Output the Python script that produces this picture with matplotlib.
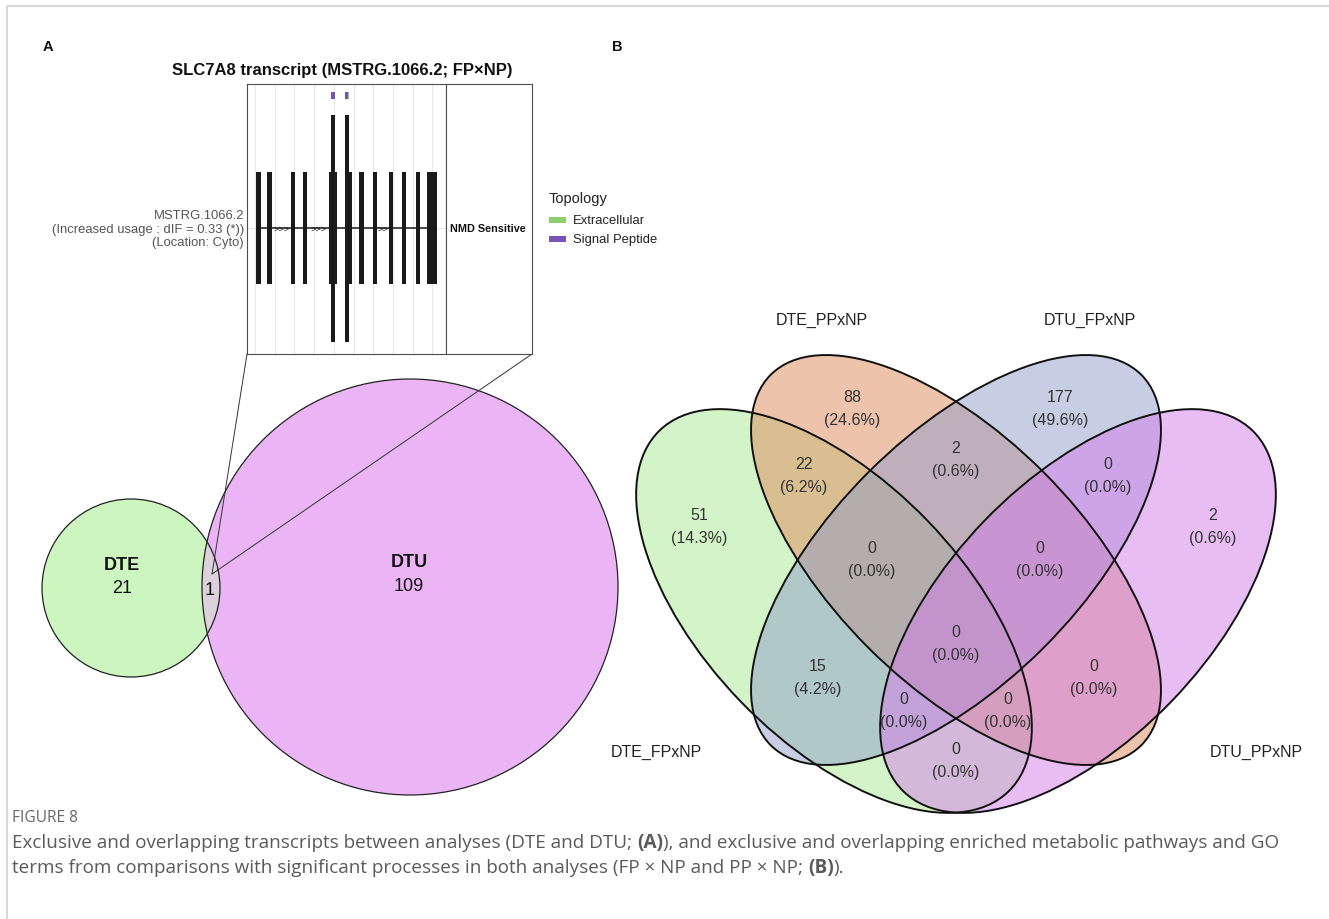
import matplotlib
matplotlib.use("Agg")
import matplotlib.pyplot as plt
from matplotlib.patches import Circle, Ellipse, Rectangle
from matplotlib import font_manager
import numpy as np

W, H, DPI = 1329, 920, 100

# ---------------- data ----------------
# Panel A - transcript model of MSTRG.1066.2 (relative coordinates)
exon_start = [0.4, 6.2, 18.1, 24.5, 37.7, 46.2, 52.9, 59.9, 67.9, 74.6, 81.6, 87.2]
exon_end = [3.2, 8.5, 20.5, 26.5, 41.5, 49.2, 55.2, 61.9, 69.9, 76.8, 83.8, 92.2]
cds_start = [38.7, 45.5]
cds_end = [40.8, 47.6]
sp_start = [38.7, 45.5]
sp_end = [40.8, 47.1]
ec_start = [47.1]
ec_end = [47.6]
chevron_x = [13.5, 32.5, 64.7]
chevron_s = [">>>", ">>>", ">>"]
transcript_lines = ["MSTRG.1066.2", "(Increased usage : dIF = 0.33 (*))", "(Location: Cyto)"]
legend_title = "Topology"
legend_labels = ["Extracellular", "Signal Peptide"]
legend_colors = ["#8ccf6e", "#7754b5"]
nmd_label = "NMD Sensitive"
title_A = "SLC7A8 transcript (MSTRG.1066.2; FP×NP)"

# Panel A - 2-set Venn
vennA_sets = ["DTE", "DTU"]
vennA_only = [21, 109]
vennA_both = 1

# Panel B - 4-set Venn
vennB_sets = ["DTE_FPxNP", "DTE_PPxNP", "DTU_FPxNP", "DTU_PPxNP"]
vennB_regions = [(1,), (2,), (3,), (4,), (1, 2), (2, 3), (3, 4), (1, 2, 3), (2, 3, 4),
                 (1, 2, 3, 4), (1, 3), (2, 4), (1, 3, 4), (1, 2, 4), (1, 4)]
vennB_counts = [51, 88, 177, 2, 22, 2, 0, 0, 0, 0, 15, 0, 0, 0, 0]

caption_head = "FIGURE 8"
caption_l1 = [("Exclusive and overlapping transcripts between analyses (DTE and DTU; ", "normal"),
              ("(A)", "bold"),
              ("), and exclusive and overlapping enriched metabolic pathways and GO", "normal")]
caption_l2 = [("terms from comparisons with significant processes in both analyses (FP × NP and PP × NP; ", "normal"),
              ("(B)", "bold"),
              (").", "normal")]

# ---------------- layout (pixels) ----------------
vB_cx = 956
vB_label_pos = {(1,): (-257, 516), (2,): (-104, 398), (3,): (104, 398), (4,): (257, 516),
                (1, 2): (-152, 465), (2, 3): (0, 449), (3, 4): (152, 465),
                (1, 2, 3): (-84, 549), (2, 3, 4): (84, 549), (1, 2, 3, 4): (0, 633),
                (1, 3): (-138, 667), (2, 4): (138, 667), (1, 3, 4): (-52, 700),
                (1, 2, 4): (52, 700), (1, 4): (0, 750)}
vB_set_pos = [(-300, 752), (-134, 320), (134, 320), (300, 752)]
# (dx, cy, angle, semi-major, semi-minor)
vB_ell = [(-122, 612, 46, 251, 130), (0, 561, 45, 262, 124),
          (0, 561, -45, 262, 124), (122, 612, -46, 251, 130)]
vB_fill = ["#a9eb93", "#dd895b", "#919dc9", "#d37deb"]

plt.rcParams['font.family'] = ['Liberation Sans', 'DejaVu Sans']

fig = plt.figure(figsize=(W / DPI, H / DPI), dpi=DPI)
fig.patch.set_facecolor("white")
ax = fig.add_axes([0, 0, 1, 1])
ax.set_xlim(0, W)
ax.set_ylim(H, 0)
ax.axis("off")


def fig_rect(x0, y0, x1, y1):
    return [x0 / W, 1 - y1 / H, (x1 - x0) / W, (y1 - y0) / H]


# page borders
ax.plot([7, W], [7, 7], color="#d2d2d2", lw=1.2, solid_capstyle="butt")
ax.plot([7, 7], [7, H], color="#d2d2d2", lw=1.2, solid_capstyle="butt")

# panel letters
ax.text(48, 47, "A", fontsize=10.5, fontweight="bold", ha="center", va="center", color="#111")
ax.text(617, 47, "B", fontsize=10.5, fontweight="bold", ha="center", va="center", color="#111")

# ---------------- transcript plot ----------------
ax.text(342, 70, title_A, fontsize=12, fontweight="bold", ha="center", va="center", color="#111")

ylo, yhi = -2.25, 2.571
axT = fig.add_axes(fig_rect(247, 85, 446, 355))
axT.set_xlim(-4.06, 96.95)
axT.set_ylim(ylo, yhi)
axT.set_xticks(np.arange(0, 100, 10))
axT.set_yticks([0])
axT.tick_params(length=0, labelbottom=False, labelleft=False)
axT.grid(True, color="#e8e8e8", lw=0.8)
axT.set_axisbelow(True)
for s in axT.spines.values():
    s.set_color("#4d4d4d")
    s.set_linewidth(0.8)

axT.plot([exon_end[0], exon_start[-1]], [0, 0], color="#1a1a1a", lw=1.1, zorder=2)
for x, s in zip(chevron_x, chevron_s):
    axT.text(x, 0, s, fontsize=6.5, ha="center", va="center", color="#1a1a1a", zorder=3)
axT.bar(exon_start, 2.0, width=np.subtract(exon_end, exon_start), bottom=-1.0,
        align="edge", color="#1a1a1a", zorder=4)
axT.bar(cds_start, 4.05, width=np.subtract(cds_end, cds_start), bottom=-2.03,
        align="edge", color="#1a1a1a", zorder=4)
axT.bar(sp_start, 0.13, width=np.subtract(sp_end, sp_start), bottom=2.30,
        align="edge", color=legend_colors[1], zorder=4)
axT.bar(ec_start, 0.13, width=np.subtract(ec_end, ec_start), bottom=2.30,
        align="edge", color=legend_colors[0], zorder=4)

axN = fig.add_axes(fig_rect(446, 85, 532, 355))
axN.set_xlim(0, 1)
axN.set_ylim(ylo, yhi)
axN.set_xticks([])
axN.set_yticks([])
for s in axN.spines.values():
    s.set_color("#4d4d4d")
    s.set_linewidth(0.8)
axN.text(0.49, 0, nmd_label, fontsize=7.8, fontweight="bold", ha="center", va="center", color="#111")

for yy, line in zip([216, 229.5, 243], transcript_lines):
    ax.text(244, yy, line, fontsize=9.4, ha="right", va="center", color="#555555")

# legend
ax.text(549, 199, legend_title, fontsize=10.5, ha="left", va="center", color="#222")
for yy, lab, col in zip([221, 240], legend_labels, legend_colors):
    ax.add_patch(Rectangle((549, yy - 3), 17, 6, color=col, lw=0))
    ax.text(573, yy, lab, fontsize=9.4, ha="left", va="center", color="#222")

# ---------------- Venn A ----------------
dte_c, dte_r = (131, 589), 89
dtu_c, dtu_r = (410, 588), 208
c1 = Circle(dte_c, dte_r, fc="#ccf5c0", ec="none", zorder=1)
c2 = Circle(dtu_c, dtu_r, fc="#eab4f5", ec="none", zorder=1)
ax.add_patch(c1)
ax.add_patch(c2)
ci = Circle(dte_c, dte_r, fc="#ddd2dc", ec="none", zorder=1.5)
ax.add_patch(ci)
ci.set_clip_path(c2)
ax.add_patch(Circle(dte_c, dte_r, fill=False, ec="#222", lw=0.9, zorder=2))
ax.add_patch(Circle(dtu_c, dtu_r, fill=False, ec="#222", lw=0.9, zorder=2))
ax.text(122, 566, vennA_sets[0], fontsize=13, fontweight="bold", ha="center", va="center", color="#111")
ax.text(122, 589, str(vennA_only[0]), fontsize=13, ha="center", va="center", color="#111")
ax.text(409, 563, vennA_sets[1], fontsize=13, fontweight="bold", ha="center", va="center", color="#111")
ax.text(409, 587, str(vennA_only[1]), fontsize=13, ha="center", va="center", color="#111")
ax.text(210, 591, str(vennA_both), fontsize=13, ha="center", va="center", color="#111")

# connectors from transcript panel to the overlap
ax.plot([247, 212], [355, 575], color="#333", lw=0.7, zorder=5)
ax.plot([532, 212], [355, 575], color="#333", lw=0.7, zorder=5)

# ---------------- Venn B ----------------
for (dx, cy, ang, sa, sb), col in zip(vB_ell, vB_fill):
    ax.add_patch(Ellipse((vB_cx + dx, cy), 2 * sa, 2 * sb, angle=ang, fc=col, alpha=0.5,
                         ec="none", zorder=1))
for (dx, cy, ang, sa, sb) in vB_ell:
    ax.add_patch(Ellipse((vB_cx + dx, cy), 2 * sa, 2 * sb, angle=ang, fill=False, ec="#111",
                         lw=1.4, zorder=2))

total = sum(vennB_counts)
for reg, cnt in zip(vennB_regions, vennB_counts):
    dx, yy = vB_label_pos[reg]
    ax.text(vB_cx + dx, yy, str(cnt), fontsize=11.5, ha="center", va="center", color="#333", zorder=3)
    ax.text(vB_cx + dx, yy + 23, f"({100 * cnt / total:.1f}%)", fontsize=11.5, ha="center",
            va="center", color="#333", zorder=3)
for name, (dx, yy) in zip(vennB_sets, vB_set_pos):
    ax.text(vB_cx + dx, yy, name, fontsize=11.5, ha="center", va="center", color="#222", zorder=3)

# ---------------- caption ----------------
avail = {f.name for f in font_manager.fontManager.ttflist}
cap_font = "Liberation Sans Narrow" if "Liberation Sans Narrow" in avail else "Open Sans"
renderer = fig.canvas.get_renderer()


def text_width(s, size, weight):
    t1 = ax.text(0, 0, s + "|", fontsize=size, fontweight=weight, family=cap_font)
    t2 = ax.text(0, 0, "|", fontsize=size, fontweight=weight, family=cap_font)
    w = t1.get_window_extent(renderer).width - t2.get_window_extent(renderer).width
    t1.remove()
    t2.remove()
    return w


base = 10.0
w1 = sum(text_width(s, base, wt) for s, wt in caption_l1)
cap_size = base * 1268 / w1
cap_color = "#5a5a5a"


def draw_segments(x, y, segs):
    for s, wt in segs:
        ax.text(x, y, s, fontsize=cap_size, fontweight=wt, family=cap_font, color=cap_color,
                ha="left", va="center")
        x += text_width(s, cap_size, wt)


ax.text(12, 818, caption_head, fontsize=cap_size * 0.82, family=cap_font, color="#666666",
        ha="left", va="center")
draw_segments(12, 843, caption_l1)
draw_segments(12, 868, caption_l2)

fig.savefig("out.png", dpi=DPI, facecolor="white")
